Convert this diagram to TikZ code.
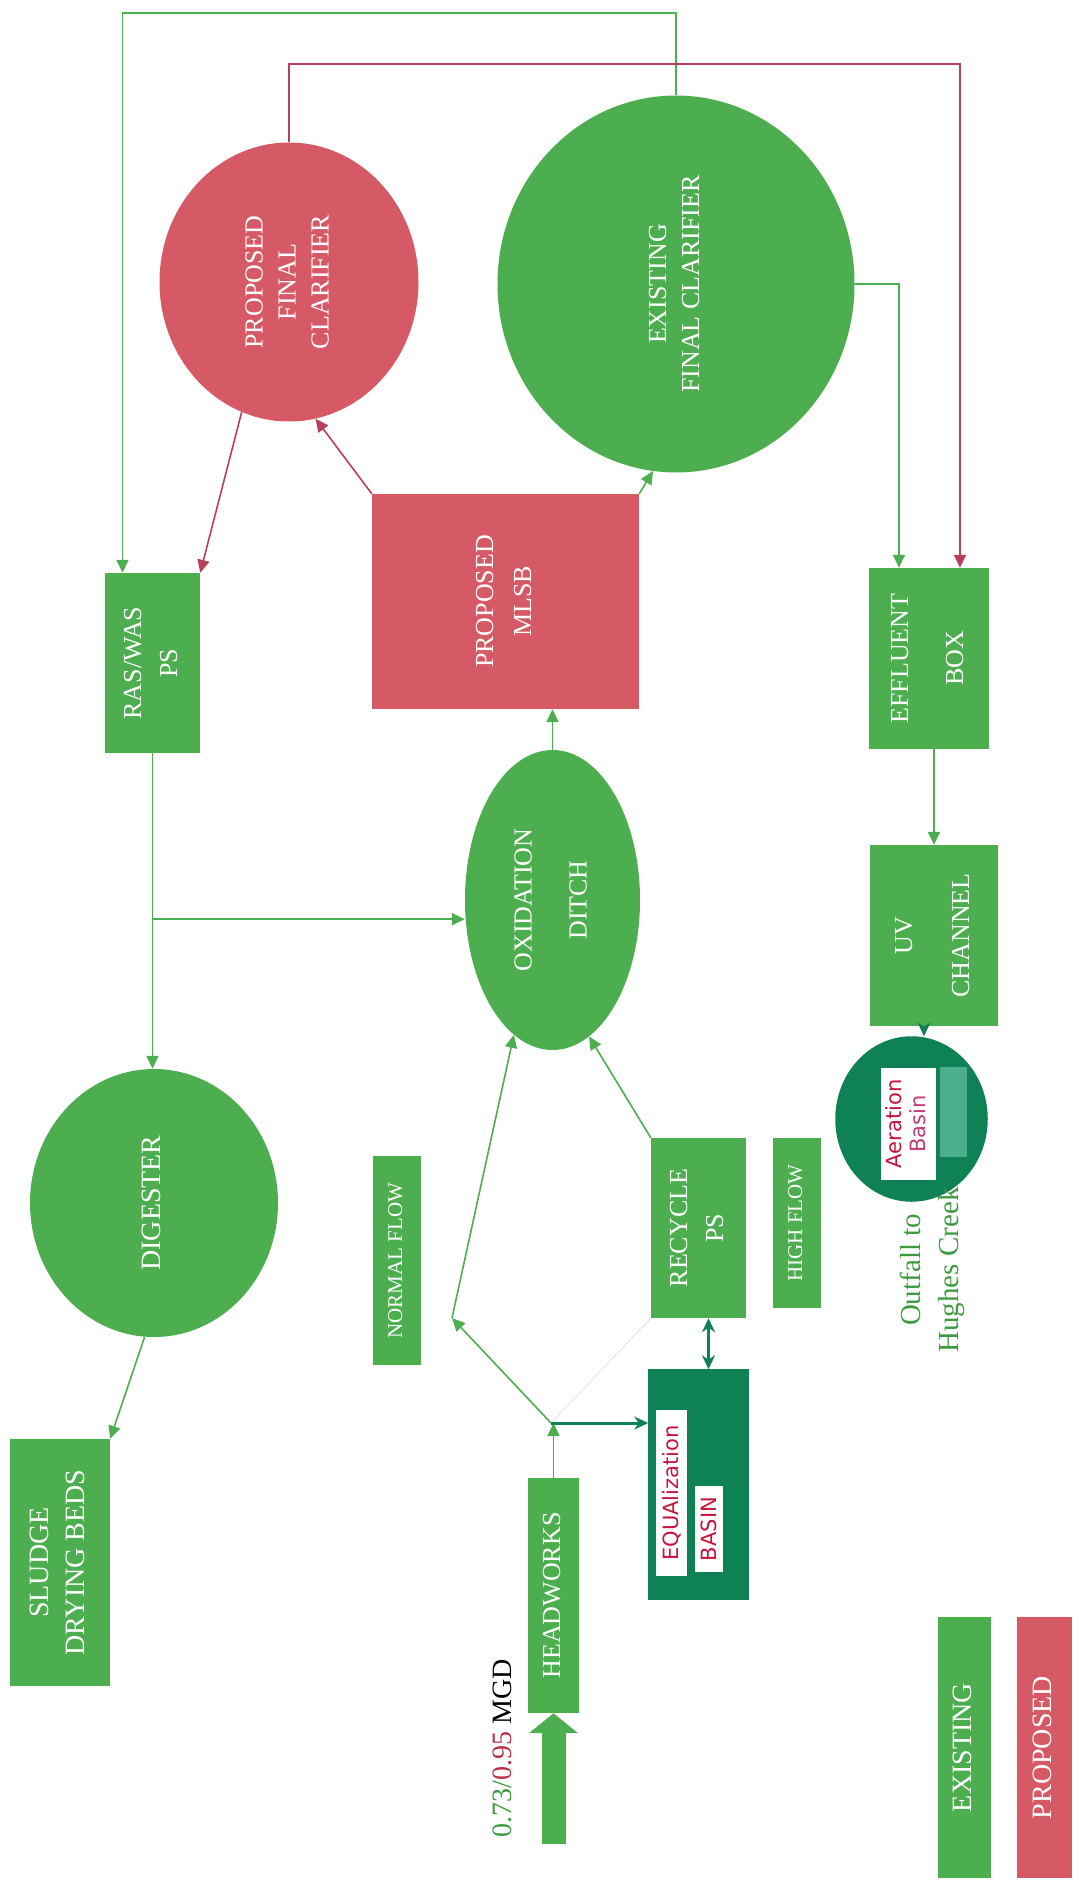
\documentclass[tikz,border=0pt]{standalone}
\usepackage{fontspec}
\setmainfont{Liberation Serif}
\newfontfamily\handfont{DejaVu Sans}
\usepackage{xcolor}
\usepackage{tikz}
\usetikzlibrary{arrows.meta,shapes.geometric,calc}
\definecolor{exgreen}{HTML}{4DAE4F}
\definecolor{prred}{HTML}{D65A66}
\definecolor{rline}{HTML}{B8405A}
\definecolor{handg}{HTML}{0F8255}
\definecolor{handlight}{HTML}{4BAF8E}
\definecolor{handr}{HTML}{C8143C}
\definecolor{handp}{HTML}{C03C78}
\definecolor{txtgreen}{HTML}{3E9A3E}
\definecolor{txtred}{HTML}{B83048}
\newcommand{\vtext}[1]{\rotatebox{90}{\begin{tabular}{@{}c@{}}#1\end{tabular}}}
\tikzset{
  unit/.style={inner sep=0pt,text=white,font=\fontsize{26}{33}\selectfont},
  exbox/.style={unit,rectangle,fill=exgreen},
  prbox/.style={unit,rectangle,fill=prred},
  exround/.style={unit,ellipse,fill=exgreen},
  prround/.style={unit,ellipse,fill=prred},
  gflow/.style={color=exgreen,line width=1.6pt,-{Triangle[length=13pt,width=12pt]}},
  rflow/.style={color=rline,line width=1.6pt,-{Triangle[length=13pt,width=12pt]}},
  hflow/.style={color=handg,line width=3pt,-{Stealth[length=14pt,width=13pt]}},
  hboth/.style={color=handg,line width=3pt,{Stealth[length=14pt,width=13pt]}-{Stealth[length=14pt,width=13pt]}},
  faint/.style={color=gray!30,line width=0.6pt},
  bigflow/.style={color=exgreen,line width=24pt,-{Triangle[length=20pt,width=48pt]}},
  patch/.style={fill=white,inner sep=0pt,text=handr,font=\handfont\fontsize{21}{26}\selectfont}
}
\begin{document}
\begin{tikzpicture}[x=1pt,y=-1pt]
\useasboundingbox (0,0) rectangle (1077,1881);
\node[prround,minimum width=259,minimum height=279] (pfc) at (289,282) {\vtext{PROPOSED\\FINAL\\CLARIFIER}};
\node[exround,minimum width=357,minimum height=377] (efc) at (676,284) {\vtext{EXISTING\\FINAL CLARIFIER}};
\node[exbox,minimum width=95,minimum height=180] (ras) at (152.5,663) {\vtext{RAS/WAS\\[3pt]PS}};
\node[prbox,minimum width=267,minimum height=215] (mlsb) at (505.5,601.5) {\vtext{PROPOSED\\[5pt]MLSB}};
\node[exbox,minimum width=120,minimum height=181] (eff) at (929,658.5) {\vtext{EFFLUENT\\[22pt]BOX}};
\node[exround,minimum width=175,minimum height=300] (ox) at (552.5,900) {\vtext{OXIDATION\\[22pt]DITCH}};
\node[exbox,minimum width=128,minimum height=181] (uv) at (934,935.5) {\vtext{UV\\[24pt]CHANNEL}};
\node[exround,minimum width=248,minimum height=268,font=\fontsize{28}{34}\selectfont] (dig) at (154,1203) {\vtext{DIGESTER}};
\node[exbox,minimum width=48,minimum height=209,font=\fontsize{21}{26}\selectfont] (normal) at (397,1260.5) {\vtext{NORMAL FLOW}};
\node[exbox,minimum width=95,minimum height=180] (rec) at (698.5,1228) {\vtext{RECYCLE\\[3pt]PS}};
\node[exbox,minimum width=48,minimum height=170,font=\fontsize{21}{26}\selectfont] (high) at (797,1223) {\vtext{HIGH FLOW}};
\node[ellipse,draw=handg,fill=handg,line width=2.5pt,minimum width=150,minimum height=163] (aer) at (911.5,1119) {};
\node[fill=handlight,minimum width=27,minimum height=90] (aerpatch) at (953,1112) {};
\node[patch,minimum width=55,minimum height=112] (aertxt) at (908.5,1124) {\rotatebox{90}{\begin{tabular}{@{}c@{}}Aeration\\[-2pt]\color{handp}Basin\end{tabular}}};
\node[inner sep=0pt,text=txtgreen,font=\fontsize{29}{34}\selectfont] (outfall) at (933,1270) {\vtext{Outfall to\\[4pt]Hughes Creek}};
\node[rectangle,draw=handg,fill=handg,line width=2.5pt,minimum width=98,minimum height=228] (eq) at (698.5,1484.5) {};
\node[patch,minimum width=31,minimum height=166] (eqtxt) at (671.5,1493) {\rotatebox{90}{EQUAlization}};
\node[patch,minimum width=28,minimum height=86] (basintxt) at (709,1529) {\rotatebox{90}{BASIN}};
\node[exbox,minimum width=100,minimum height=247,font=\fontsize{28}{34}\selectfont] (sludge) at (60,1562.5) {\vtext{SLUDGE\\[2pt]DRYING BEDS}};
\node[exbox,minimum width=51,minimum height=235] (hw) at (553.5,1595.5) {\vtext{HEADWORKS}};
\node[inner sep=0pt,font=\fontsize{28}{34}\selectfont] (mgd) at (502,1748.5) {\rotatebox{90}{\color{txtgreen}0.73/\color{txtred}0.95 \color{black}MGD}};
\node[exbox,minimum width=53,minimum height=261,font=\fontsize{28}{34}\selectfont] (legex) at (964.5,1747.5) {\vtext{EXISTING}};
\node[prbox,minimum width=55,minimum height=261,font=\fontsize{28}{34}\selectfont] (legpr) at (1044.5,1747.5) {\vtext{PROPOSED}};
\coordinate (tee) at ($(ras.south)+(0,166)$);
\coordinate (jn) at (551,1423);
\coordinate (bend) at (452,1318);
\coordinate (inflow) at (553.5,1844);
\draw[gflow] (efc.north) -- ++(0,-82) -| ([xshift=-30pt]ras.north);
\draw[rflow] (pfc.north) -- ++(0,-78) -| ([xshift=31pt]eff.north);
\draw[gflow] (efc.east) -| ([xshift=-30pt]eff.north);
\draw[rflow] (mlsb.north west) -- (pfc.-79);
\draw[gflow] (mlsb.north east) -- (efc.-97);
\draw[rflow] (pfc.-110) -- (ras.north east);
\draw[gflow] (ras.south) -- (ras.south |- dig.north);
\draw[gflow] (tee) -- (tee -| ox.west);
\draw[gflow] (ox.north) -- (ox.north |- mlsb.south);
\draw[gflow] (uv.north |- eff.south) -- (uv.north);
\draw[hflow] ([xshift=-10pt]uv.south) -- ([xshift=-10pt]uv.south |- aer.north);
\draw[gflow] (dig.-94) -- (sludge.north east);
\draw[gflow] (hw.north) -- (hw.north |- jn);
\draw[gflow] (jn) -- (bend);
\draw[gflow] (bend) -- (ox.-106);
\draw[gflow] (rec.north west) -- (ox.-75);
\draw[faint] (jn) -- (rec.south west);
\draw[hflow] (jn) -- (jn -| eq.west);
\draw[hboth] ([xshift=10pt]rec.south) -- ([xshift=10pt]rec.south |- eq.north);
\draw[bigflow] (inflow) -- (hw.south);
\end{tikzpicture}
\end{document}
